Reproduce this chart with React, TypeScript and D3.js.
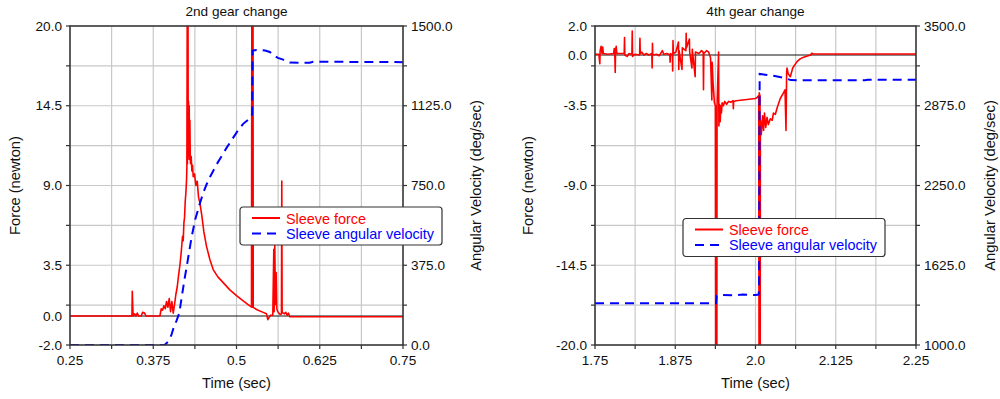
import React from 'react';
import * as d3 from 'd3';

type Pt = [number, number];

// ---- 2nd gear change: sleeve force (newton) vs time (sec)
const gear2Force: Pt[] = [
  [0.25, 0], [0.343, 0], [0.3435, 1.7], [0.3445, 0.3], [0.345, 0.0], [0.347, 0.15], [0.349, 0.0],
  [0.351, 0.2], [0.353, 0.0], [0.357, 0.0], [0.359, 0.25], [0.362, 0.2], [0.364, 0.0],
  [0.385, 0.0], [0.387, 0.5], [0.389, 0.4], [0.391, 0.7], [0.393, 0.5], [0.395, 1.0], [0.397, 0.6],
  [0.399, 1.2], [0.401, 0.3], [0.403, 1.0], [0.405, 0.2], [0.407, 0.8], [0.409, 1.5], [0.411, 2.0],
  [0.413, 2.8], [0.415, 3.5], [0.417, 4.4], [0.419, 5.5], [0.42, 5.2], [0.421, 6.4], [0.422, 6.8],
  [0.423, 7.9], [0.424, 8.5], [0.425, 9.4], [0.4255, 10.3], [0.426, 21], [0.4263, 10.5], [0.4266, 21],
  [0.4269, 10.8], [0.4272, 21], [0.4275, 11.5], [0.428, 14.8], [0.4285, 11.0], [0.429, 14.5],
  [0.4295, 10.8], [0.43, 13.5], [0.4305, 11.2], [0.431, 10.5], [0.432, 11.0], [0.433, 10.0],
  [0.434, 10.4], [0.435, 9.6], [0.437, 9.8], [0.439, 9.0], [0.441, 9.3], [0.443, 8.2], [0.445, 7.8],
  [0.448, 6.9], [0.451, 5.8], [0.455, 4.8], [0.46, 3.9], [0.465, 3.2], [0.472, 2.7], [0.48, 2.3],
  [0.49, 1.8], [0.5, 1.4], [0.51, 1.05], [0.52, 0.7], [0.5225, 0.62], [0.523, 21], [0.5233, 0.6],
  [0.5236, 21], [0.5239, 0.6], [0.5242, 21], [0.5245, 0.6], [0.5248, 21], [0.5251, 0.6],
  [0.53, 0.45], [0.54, 0.25], [0.545, 0.15], [0.547, -0.25], [0.549, -0.1], [0.551, 0.05],
  [0.5545, 0.05], [0.556, 4.6], [0.5565, 0.3], [0.5575, 4.9], [0.5585, 0.8], [0.5595, 3.0],
  [0.5605, 0.5], [0.562, 0.3], [0.5635, 0.2], [0.566, 0.1], [0.5675, 0.15], [0.568, 9.3],
  [0.5685, 0.3], [0.57, 0.2], [0.572, 0.15], [0.574, 0.25], [0.576, 0.05], [0.578, 0.2],
  [0.58, -0.05], [0.75, -0.05],
];

// ---- 2nd gear change: sleeve angular velocity (deg/sec) vs time (sec)
const gear2Velocity: Pt[] = [
  [0.25, 0], [0.392, 0], [0.397, 15], [0.402, 45], [0.406, 85], [0.41, 115], [0.414, 149],
  [0.418, 230], [0.422, 310], [0.4252, 368], [0.429, 440], [0.4327, 509], [0.438, 590],
  [0.4452, 668], [0.45, 715], [0.4553, 757], [0.4602, 790], [0.4703, 850], [0.4853, 928],
  [0.5003, 1000], [0.51, 1040], [0.5203, 1066], [0.5235, 1085], [0.5242, 1384], [0.53, 1387],
  [0.543, 1385], [0.55, 1378], [0.556, 1362], [0.562, 1350], [0.57, 1342], [0.58, 1328],
  [0.61, 1327], [0.615, 1332], [0.75, 1330],
];

// ---- 4th gear change: sleeve force (newton) vs time (sec)
const gear4Force: Pt[] = [
  [1.75, 0.05], [1.756, 0.05], [1.7575, -0.6], [1.758, 0.3], [1.7595, 0.6], [1.761, 0.1],
  [1.762, 0.55], [1.763, 0.1], [1.77, 0.05], [1.779, 0.1], [1.78, 0.45], [1.781, -0.2],
  [1.7815, -1.2], [1.782, 0.3], [1.783, 0.6], [1.784, 0.1], [1.79, 0.1], [1.7955, 0.1],
  [1.796, 1.2], [1.7965, 0.0], [1.8, -0.1], [1.803, 0.1], [1.8075, 0.05], [1.808, 1.65],
  [1.8085, -0.1], [1.812, 0.05], [1.8195, 0.0], [1.82, 1.15], [1.8205, 0.1], [1.823, 0.2],
  [1.826, 0.0], [1.83, 0.1], [1.834, 0.0], [1.8385, 0.1], [1.839, -0.9], [1.8395, 0.8],
  [1.84, 0.0], [1.846, 0.05], [1.85, -0.05], [1.855, 0.3], [1.857, 0.05], [1.862, 0.1],
  [1.8665, 0.0], [1.867, -0.5], [1.8675, 0.1], [1.8705, 0.0], [1.871, -1.1], [1.8715, 1.0],
  [1.872, 0.1], [1.876, 0.2], [1.88, 0.9], [1.8805, -1.0], [1.881, 0.3], [1.8855, -1.0],
  [1.886, 0.5], [1.8915, 0.3], [1.892, 1.5], [1.8925, 0.5], [1.897, 1.1], [1.8975, 0.2],
  [1.901, -0.9], [1.9015, 0.4], [1.906, -1.5], [1.9065, 0.2], [1.912, 0.1], [1.916, 0.3],
  [1.9185, 0.2], [1.919, -2.4], [1.9195, 0.1], [1.924, 0.3], [1.927, 0.2], [1.93, -0.2],
  [1.932, -3.1], [1.9325, -0.5], [1.934, -2.0], [1.936, -3.3], [1.9375, -3.5], [1.938, -21],
  [1.9383, -3.6], [1.9386, -21], [1.9389, -4.0], [1.9392, -21], [1.9395, -3.5], [1.9398, -21],
  [1.9401, -3.5], [1.9425, 0.2], [1.943, -4.9], [1.944, -3.4], [1.945, -4.6], [1.946, -3.5],
  [1.947, -4.0], [1.948, -3.3], [1.95, -3.5], [1.952, -3.2], [1.955, -3.4], [1.958, -3.2],
  [1.962, -3.25], [1.965, -3.15], [1.9655, -3.7], [1.966, -3.2], [1.97, -3.15], [1.98, -3.1],
  [1.99, -3.05], [2.0, -3.0], [2.003, -2.9], [2.005, -2.8], [2.0055, -21], [2.0058, -2.6],
  [2.0061, -21], [2.0064, -2.7], [2.0067, -21], [2.007, -2.8], [2.0073, -21], [2.0076, -4.5],
  [2.009, -5.5], [2.011, -4.2], [2.0126, -5.2], [2.014, -4.0], [2.016, -5.0], [2.018, -4.3],
  [2.02, -4.8], [2.0231, -4.4], [2.026, -4.5], [2.028, -4.0], [2.0308, -4.1], [2.034, -3.6],
  [2.0386, -3.0], [2.0438, -2.6], [2.046, -2.4], [2.0475, -5.2], [2.0485, -1.2], [2.0491, -0.9],
  [2.051, -1.3], [2.0542, -1.5], [2.058, -0.9], [2.0646, -0.46], [2.07, -0.25], [2.075, -0.16],
  [2.082, -0.05], [2.086, 0.0], [2.0875, 0.12], [2.0905, 0.07], [2.25, 0.07],
];

// ---- 4th gear change: sleeve angular velocity (deg/sec) vs time (sec)
const gear4Velocity: Pt[] = [
  [1.75, 1327], [1.9385, 1327], [1.9395, 1385], [1.945, 1392], [1.97, 1390], [1.98, 1395],
  [2.0, 1392], [2.005, 1395], [2.0055, 1450], [2.0065, 3124], [2.015, 3118], [2.03, 3108],
  [2.045, 3092], [2.055, 3076], [2.07, 3074], [2.17, 3074], [2.175, 3078], [2.25, 3078],
];

// ---- tick labels
const gear2TimeTicks = [0.25, 0.375, 0.5, 0.625, 0.75];
const gear2TimeLabels = ['0.25', '0.375', '0.5', '0.625', '0.75'];
const gear2ForceTicks = [20, 14.5, 9, 3.5, 0, -2];
const gear2ForceLabels = ['20.0', '14.5', '9.0', '3.5', '0.0', '-2.0'];
const gear2VelTicks = [1500, 1125, 750, 375, 0];
const gear2VelLabels = ['1500.0', '1125.0', '750.0', '375.0', '0.0'];

const gear4TimeTicks = [1.75, 1.875, 2.0, 2.125, 2.25];
const gear4TimeLabels = ['1.75', '1.875', '2.0', '2.125', '2.25'];
const gear4ForceTicks = [2, 0, -3.5, -9, -14.5, -20];
const gear4ForceLabels = ['2.0', '0.0', '-3.5', '-9.0', '-14.5', '-20.0'];
const gear4VelTicks = [3500, 2875, 2250, 1625, 1000];
const gear4VelLabels = ['3500.0', '2875.0', '2250.0', '1625.0', '1000.0'];

const FONT = 'Liberation Sans, Arial, Helvetica, sans-serif';
const AXIS = '#333333';
const GRID = '#c8c8c8';
const RED = '#ff0000';
const BLUE = '#0000ff';

interface PanelProps {
  id: string;
  title: string;
  left: number;
  right: number;
  top: number;
  bottom: number;
  timeDomain: [number, number];
  forceDomain: [number, number];
  velDomain: [number, number];
  force: Pt[];
  velocity: Pt[];
  timeTicks: number[];
  timeLabels: string[];
  forceTicks: number[];
  forceLabels: string[];
  velTicks: number[];
  velLabels: string[];
  legendX: number;
  legendY: number;
  forceTitleX: number;
  velTitleX: number;
}

function Panel(p: PanelProps) {
  const x = d3.scaleLinear().domain(p.timeDomain).range([p.left, p.right]);
  const yF = d3.scaleLinear().domain(p.forceDomain).range([p.bottom, p.top]);
  const yV = d3.scaleLinear().domain(p.velDomain).range([p.bottom, p.top]);

  const timeGrid = d3.range(p.timeDomain[0], p.timeDomain[1] + 1e-9, 0.0625);
  const forceStep = (p.forceDomain[1] - p.forceDomain[0]) / 8;
  const forceGrid = d3.range(0, 9).map((i) => p.forceDomain[0] + i * forceStep);
  const velStep = (p.velDomain[1] - p.velDomain[0]) / 8;
  const velGrid = d3.range(0, 9).map((i) => p.velDomain[0] + i * velStep);

  const forceLine = d3.line<Pt>().x((d) => x(d[0])).y((d) => yF(d[1]));
  const velLine = d3.line<Pt>().x((d) => x(d[0])).y((d) => yV(d[1]));

  const cx = (p.left + p.right) / 2;
  const cy = (p.top + p.bottom) / 2;
  const clipId = `clip-${p.id}`;

  return (
    <g>
      <defs>
        <clipPath id={clipId}>
          <rect x={p.left} y={p.top} width={p.right - p.left} height={p.bottom - p.top} />
        </clipPath>
      </defs>

      {/* grid */}
      {timeGrid.map((t, i) => (
        <line key={`gx${i}`} x1={x(t)} x2={x(t)} y1={p.top} y2={p.bottom} stroke={GRID} strokeWidth={1.2} />
      ))}
      {forceGrid.map((f, i) => (
        <line key={`gy${i}`} x1={p.left} x2={p.right} y1={yF(f)} y2={yF(f)} stroke={GRID} strokeWidth={1.2} />
      ))}

      {/* zero force line */}
      <line x1={p.left} x2={p.right} y1={yF(0)} y2={yF(0)} stroke="#111" strokeWidth={1} />

      {/* data */}
      <g clipPath={`url(#${clipId})`}>
        <path d={forceLine(p.force) ?? ''} fill="none" stroke={RED} strokeWidth={1.6} strokeLinejoin="round" />
        <path
          d={velLine(p.velocity) ?? ''}
          fill="none"
          stroke={BLUE}
          strokeWidth={2}
          strokeDasharray="9,6"
        />
      </g>

      {/* frame */}
      <rect x={p.left} y={p.top} width={p.right - p.left} height={p.bottom - p.top} fill="none" stroke={AXIS} strokeWidth={1.5} />

      {/* bottom ticks */}
      {timeGrid.map((t, i) => (
        <line key={`tx${i}`} x1={x(t)} x2={x(t)} y1={p.bottom} y2={p.bottom + 4} stroke={AXIS} strokeWidth={1.2} />
      ))}
      {p.timeTicks.map((t, i) => (
        <text key={`lx${i}`} x={x(t)} y={p.bottom + 20} textAnchor="middle" fontFamily={FONT} fontSize={13.6} fill="#111">
          {p.timeLabels[i]}
        </text>
      ))}

      {/* left ticks */}
      {forceGrid.map((f, i) => (
        <line key={`tyl${i}`} x1={p.left - 4} x2={p.left} y1={yF(f)} y2={yF(f)} stroke={AXIS} strokeWidth={1.2} />
      ))}
      {p.forceTicks.map((f, i) => (
        <text key={`ly${i}`} x={p.left - 8} y={yF(f) + 4.7} textAnchor="end" fontFamily={FONT} fontSize={13.6} fill="#111">
          {p.forceLabels[i]}
        </text>
      ))}

      {/* right ticks */}
      {velGrid.map((v, i) => (
        <line key={`tyr${i}`} x1={p.right} x2={p.right + 4} y1={yV(v)} y2={yV(v)} stroke={AXIS} strokeWidth={1.2} />
      ))}
      {p.velTicks.map((v, i) => (
        <text key={`ry${i}`} x={p.right + 8} y={yV(v) + 4.7} textAnchor="start" fontFamily={FONT} fontSize={13.6} fill="#111">
          {p.velLabels[i]}
        </text>
      ))}

      {/* titles */}
      <text x={cx} y={p.top - 10} textAnchor="middle" fontFamily={FONT} fontSize={13.6} fill="#111">
        {p.title}
      </text>
      <text x={cx} y={p.bottom + 43} textAnchor="middle" fontFamily={FONT} fontSize={14.7} fill="#111">
        Time (sec)
      </text>
      <text
        transform={`translate(${p.forceTitleX},${cy}) rotate(-90)`}
        textAnchor="middle"
        fontFamily={FONT}
        fontSize={14.7}
        fill="#111"
      >
        Force (newton)
      </text>
      <text
        transform={`translate(${p.velTitleX},${cy}) rotate(-90)`}
        textAnchor="middle"
        fontFamily={FONT}
        fontSize={14.7}
        fill="#111"
      >
        Angular Velocity (deg/sec)
      </text>

      {/* legend */}
      <g transform={`translate(${p.legendX},${p.legendY})`}>
        <rect x={0} y={0} width={202} height={38} rx={3} fill="#fff" stroke={AXIS} strokeWidth={1.2} />
        <line x1={12} x2={40} y1={11} y2={11} stroke={RED} strokeWidth={2} />
        <text x={46} y={16.5} fontFamily={FONT} fontSize={14.4} fill={RED}>
          Sleeve force
        </text>
        <line x1={12} x2={40} y1={26.5} y2={26.5} stroke={BLUE} strokeWidth={2} strokeDasharray="9,6" />
        <text x={46} y={31.5} fontFamily={FONT} fontSize={14.4} fill={BLUE}>
          Sleeve angular velocity
        </text>
      </g>
    </g>
  );
}

export default function App() {
  return (
    <svg
      width={1000}
      height={399}
      viewBox="0 0 1000 399"
      style={{ position: 'absolute', left: 0, top: 0, background: '#fff' }}
    >
      <rect x={0} y={0} width={1000} height={399} fill="#fff" />
      <Panel
        id="g2"
        title="2nd gear change"
        left={70}
        right={403}
        top={26}
        bottom={345}
        timeDomain={[0.25, 0.75]}
        forceDomain={[-2, 20]}
        velDomain={[0, 1500]}
        force={gear2Force}
        velocity={gear2Velocity}
        timeTicks={gear2TimeTicks}
        timeLabels={gear2TimeLabels}
        forceTicks={gear2ForceTicks}
        forceLabels={gear2ForceLabels}
        velTicks={gear2VelTicks}
        velLabels={gear2VelLabels}
        legendX={240}
        legendY={207}
        forceTitleX={20}
        velTitleX={481}
      />
      <Panel
        id="g4"
        title="4th gear change"
        left={595}
        right={916}
        top={26}
        bottom={345}
        timeDomain={[1.75, 2.25]}
        forceDomain={[-20, 2]}
        velDomain={[1000, 3500]}
        force={gear4Force}
        velocity={gear4Velocity}
        timeTicks={gear4TimeTicks}
        timeLabels={gear4TimeLabels}
        forceTicks={gear4ForceTicks}
        forceLabels={gear4ForceLabels}
        velTicks={gear4VelTicks}
        velLabels={gear4VelLabels}
        legendX={683}
        legendY={218.5}
        forceTitleX={533}
        velTitleX={995}
      />
    </svg>
  );
}
